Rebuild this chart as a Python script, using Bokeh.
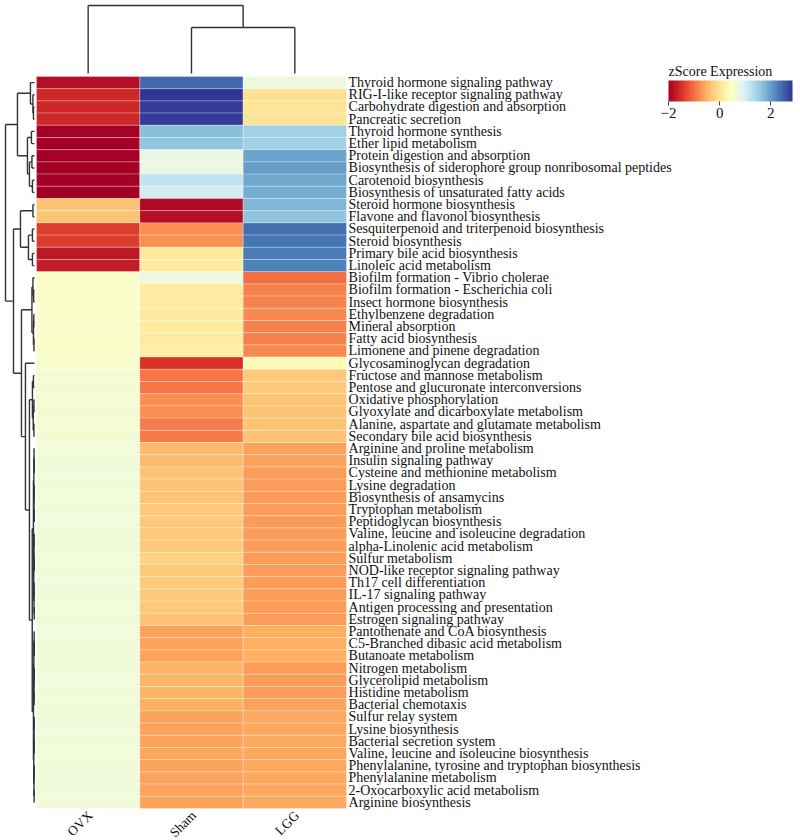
import math
import numpy as np
from bokeh.plotting import figure
from bokeh.models import ColumnDataSource, LinearColorMapper, ColorBar, FixedTicker, Range1d
from bokeh.core.properties import value
from bokeh.embed import file_html
from bokeh.resources import INLINE

# ---------------- data ----------------
groups = ["OVX", "Sham", "LGG"]

pathways = [
    "Thyroid hormone signaling pathway",
    "RIG-I-like receptor signaling pathway",
    "Carbohydrate digestion and absorption",
    "Pancreatic secretion",
    "Thyroid hormone synthesis",
    "Ether lipid metabolism",
    "Protein digestion and absorption",
    "Biosynthesis of siderophore group nonribosomal peptides",
    "Carotenoid biosynthesis",
    "Biosynthesis of unsaturated fatty acids",
    "Steroid hormone biosynthesis",
    "Flavone and flavonol biosynthesis",
    "Sesquiterpenoid and triterpenoid biosynthesis",
    "Steroid biosynthesis",
    "Primary bile acid biosynthesis",
    "Linoleic acid metabolism",
    "Biofilm formation - Vibrio cholerae",
    "Biofilm formation - Escherichia coli",
    "Insect hormone biosynthesis",
    "Ethylbenzene degradation",
    "Mineral absorption",
    "Fatty acid biosynthesis",
    "Limonene and pinene degradation",
    "Glycosaminoglycan degradation",
    "Fructose and mannose metabolism",
    "Pentose and glucuronate interconversions",
    "Oxidative phosphorylation",
    "Glyoxylate and dicarboxylate metabolism",
    "Alanine, aspartate and glutamate metabolism",
    "Secondary bile acid biosynthesis",
    "Arginine and proline metabolism",
    "Insulin signaling pathway",
    "Cysteine and methionine metabolism",
    "Lysine degradation",
    "Biosynthesis of ansamycins",
    "Tryptophan metabolism",
    "Peptidoglycan biosynthesis",
    "Valine, leucine and isoleucine degradation",
    "alpha-Linolenic acid metabolism",
    "Sulfur metabolism",
    "NOD-like receptor signaling pathway",
    "Th17 cell differentiation",
    "IL-17 signaling pathway",
    "Antigen processing and presentation",
    "Estrogen signaling pathway",
    "Pantothenate and CoA biosynthesis",
    "C5-Branched dibasic acid metabolism",
    "Butanoate metabolism",
    "Nitrogen metabolism",
    "Glycerolipid metabolism",
    "Histidine metabolism",
    "Bacterial chemotaxis",
    "Sulfur relay system",
    "Lysine biosynthesis",
    "Bacterial secretion system",
    "Valine, leucine and isoleucine biosynthesis",
    "Phenylalanine, tyrosine and tryptophan biosynthesis",
    "Phenylalanine metabolism",
    "2-Oxocarboxylic acid metabolism",
    "Arginine biosynthesis",
]

ovx = [-1.85, -1.6, -1.6, -1.6, -2.0, -2.0, -2.0, -2.0, -2.0, -2.0,
       -0.35, -0.35, -1.4, -1.4, -1.75, -1.7,
       0.5, 0.5, 0.5, 0.5, 0.5, 0.5, 0.5, 0.55,
       0.6, 0.6, 0.6, 0.6, 0.6, 0.6,
       0.62, 0.62, 0.62, 0.62, 0.62, 0.62, 0.62, 0.62, 0.62, 0.62, 0.62, 0.62, 0.62, 0.62, 0.62,
       0.62, 0.62, 0.62, 0.62, 0.62, 0.62, 0.62, 0.62, 0.62, 0.62, 0.62, 0.62, 0.62, 0.62, 0.62]

sham = [2.45, 2.85, 2.8, 2.8, 1.65, 1.6, 0.75, 0.75, 1.2, 1.05,
        -1.9, -1.85, -0.75, -0.75, 0.05, 0.1,
        0.7, 0.1, 0.1, 0.05, 0.1, 0.1, 0.15, -1.5,
        -0.95, -0.95, -0.75, -0.75, -0.9, -0.9,
        -0.4, -0.4, -0.35, -0.35, -0.35, -0.3, -0.3, -0.3, -0.3, -0.2, -0.3, -0.3, -0.3, -0.3, -0.35,
        -0.62, -0.62, -0.6, -0.48, -0.48, -0.48, -0.5, -0.6, -0.6, -0.6, -0.58, -0.6, -0.6, -0.6, -0.6]

lgg = [0.7, -0.05, 0.0, 0.0, 1.45, 1.45, 1.95, 2.0, 1.9, 1.85,
       1.75, 1.6, 2.4, 2.35, 2.3, 2.25,
       -1.0, -0.85, -0.85, -0.8, -0.85, -0.85, -0.8, 0.35,
       -0.3, -0.3, -0.35, -0.35, -0.35, -0.35,
       -0.6, -0.62, -0.65, -0.65, -0.65, -0.65, -0.65, -0.65, -0.68, -0.65, -0.65, -0.65, -0.65, -0.65, -0.65,
       -0.5, -0.5, -0.5, -0.65, -0.65, -0.65, -0.62, -0.55, -0.55, -0.55, -0.55, -0.55, -0.55, -0.55, -0.55]

# column dendrogram: (height, left, right), leaves are column indices
col_tree = (6.8, 0, (4.6, 1, 2))

# row dendrogram: (height, left, right), leaves are row indices
row_tree = (2.9,
    (1.7,
        (0.4, 0, (0.15, 1, (0.1, 2, 3))),
        (0.7, (0.3, 4, 5), (0.5, (0.25, 6, 7), (0.2, 8, 9)))),
    (2.1,
        (1.4, (0.15, 10, 11), (0.6, (0.2, 12, 13), (0.2, 14, 15))),
        (1.3,
            (0.25, (0.15, 16, (0.08, 17, 18)), (0.1, (0.06, 19, 20), (0.05, 21, 22))),
            (0.9, 23,
                (0.5,
                    (0.2, (0.1, 24, 25), (0.12, (0.05, 26, 27), (0.05, 28, 29))),
                    (0.22,
                        (0.1,
                            (0.06, (0.04, 30, (0.02, 31, 32)), (0.05, (0.03, 33, 34), (0.02, 35, 36))),
                            (0.07, (0.05, (0.03, 37, 38), (0.02, 39, 40)), (0.04, (0.03, 41, 42), (0.02, 43, 44)))),
                        (0.1,
                            (0.06, (0.03, 45, (0.02, 46, 47)), (0.04, (0.02, 48, 49), (0.03, 50, 51))),
                            (0.07, (0.04, (0.02, 52, 53), (0.03, 54, 55)), (0.05, (0.02, 56, 57), (0.03, 58, 59))))))))))

legend_ticks = [-2, 0, 2]
z_low, z_high = -2.0, 2.85

# ---------------- colours ----------------
base = ["#a50026", "#d73027", "#f46d43", "#fdae61", "#fee090", "#ffffbf",
        "#e0f3f8", "#abd9e9", "#74add1", "#4575b4", "#313695"]


def hex2rgb(h):
    return [int(h[i:i + 2], 16) for i in (1, 3, 5)]


def ramp(cols, n):
    rgb = [hex2rgb(c) for c in cols]
    out = []
    for k in range(n):
        t = k / (n - 1) * (len(rgb) - 1)
        i = min(int(t), len(rgb) - 2)
        f = t - i
        c = [round(rgb[i][j] * (1 - f) + rgb[i + 1][j] * f) for j in range(3)]
        out.append("#%02x%02x%02x" % tuple(c))
    return out


palette = ramp(base, 100)
mapper = LinearColorMapper(palette=palette, low=z_low, high=z_high)

SERIF = "'Liberation Serif'"

# ---------------- figure ----------------
nrow = len(pathways)
p = figure(width=800, height=840,
           x_range=Range1d(-0.3484, 7.394), y_range=Range1d(62.623, -6.2295),
           x_axis_location=None, y_axis_location=None,
           output_backend="svg", toolbar_location=None, min_border=0)
p.grid.visible = False
p.outline_line_color = None

xs, ys, zs = [], [], []
for i in range(nrow):
    for j, col in enumerate([ovx, sham, lgg]):
        xs.append(j + 0.5)
        ys.append(i + 0.5)
        zs.append(col[i])
src = ColumnDataSource(dict(x=xs, y=ys, z=zs))
p.rect(x="x", y="y", width=1, height=1, source=src,
       fill_color={"field": "z", "transform": mapper},
       line_color="#ffffff", line_alpha=0.35, line_width=0.8)

# row labels
p.text(x=[3.02] * nrow, y=[i + 0.5 for i in range(nrow)], text=pathways,
       text_font=value("Liberation Serif"), text_font_size="14px",
       text_baseline="middle", text_align="left", text_color="#111111")

# column labels
p.text(x=[j + 0.47 for j in range(3)], y=[59.95] * 3, text=groups,
       angle=math.pi / 4, text_font=value("Liberation Serif"), text_font_size="13.5px",
       text_baseline="top", text_align="right", text_color="#111111")

# ---------------- dendrograms ----------------
def tree_segments(node, segs):
    if isinstance(node, int):
        return node + 0.5, 0.0
    h, l, r = node
    pl, hl = tree_segments(l, segs)
    pr, hr = tree_segments(r, segs)
    segs.append((pl, hl, pl, h))
    segs.append((pr, hr, pr, h))
    segs.append((pl, h, pr, h))
    return (pl + pr) / 2, h


# row dendrogram (left)
rsegs = []
tree_segments(row_tree, rsegs)
leaf_x = -0.02
rsc = (0.300 - 0.02) / row_tree[0]
p.segment(x0=[leaf_x - s[1] * rsc for s in rsegs], y0=[s[0] for s in rsegs],
          x1=[leaf_x - s[3] * rsc for s in rsegs], y1=[s[2] for s in rsegs],
          line_color="#333333", line_width=1.4)

# column dendrogram (top)
csegs = []
tree_segments(col_tree, csegs)
leaf_y = -0.25
csc = (5.82 - 0.25) / col_tree[0]
p.segment(x0=[s[0] for s in csegs], y0=[leaf_y - s[1] * csc for s in csegs],
          x1=[s[2] for s in csegs], y1=[leaf_y - s[3] * csc for s in csegs],
          line_color="#333333", line_width=1.4)

# ---------------- colour bar ----------------
cb = ColorBar(color_mapper=mapper, orientation="horizontal",
              width=124, height=21, padding=0,
              location=(668, 720),
              ticker=FixedTicker(ticks=legend_ticks),
              title="zScore Expression", title_standoff=3,
              title_text_font=SERIF, title_text_font_size="14px",
              title_text_font_style="normal", title_text_color="#111111",
              major_label_text_font=SERIF, major_label_text_font_size="15px",
              major_label_text_color="#111111", label_standoff=2,
              major_tick_line_color="#444444", major_tick_in=0, major_tick_out=4,
              minor_tick_line_color=None, bar_line_color=None,
              border_line_color=None, background_fill_alpha=0)
p.add_layout(cb)

open("out.html", "w").write(file_html(p, INLINE))
